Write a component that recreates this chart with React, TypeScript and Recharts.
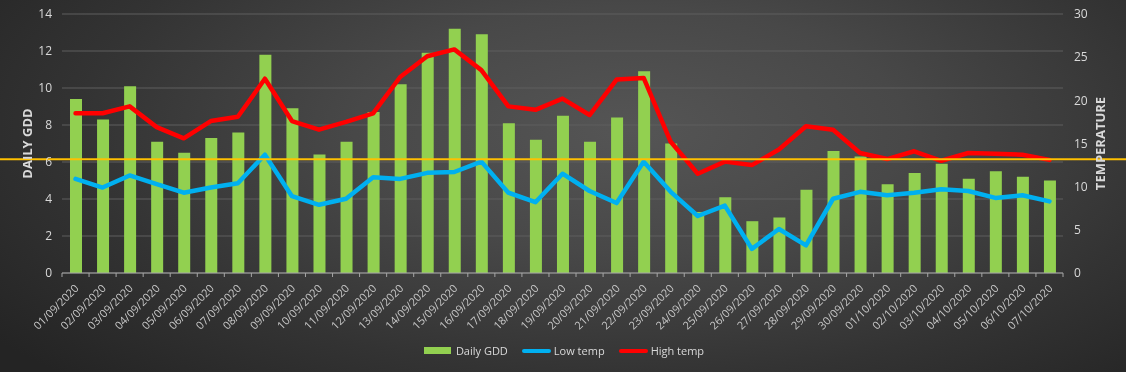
import { ComposedChart, Bar, Line, XAxis, YAxis, CartesianGrid, ReferenceLine, Legend } from 'recharts'

const dates = [
  '01/09/2020', '02/09/2020', '03/09/2020', '04/09/2020', '05/09/2020', '06/09/2020', '07/09/2020',
  '08/09/2020', '09/09/2020', '10/09/2020', '11/09/2020', '12/09/2020', '13/09/2020', '14/09/2020',
  '15/09/2020', '16/09/2020', '17/09/2020', '18/09/2020', '19/09/2020', '20/09/2020', '21/09/2020',
  '22/09/2020', '23/09/2020', '24/09/2020', '25/09/2020', '26/09/2020', '27/09/2020', '28/09/2020',
  '29/09/2020', '30/09/2020', '01/10/2020', '02/10/2020', '03/10/2020', '04/10/2020', '05/10/2020',
  '06/10/2020', '07/10/2020',
]
const dailyGdd = [
  9.4, 8.3, 10.1, 7.1, 6.5, 7.3, 7.6, 11.8, 8.9, 6.4, 7.1, 8.7, 10.2, 11.9, 13.2, 12.9, 8.1, 7.2, 8.5,
  7.1, 8.4, 10.9, 7.0, 3.3, 4.1, 2.8, 3.0, 4.5, 6.6, 6.3, 4.8, 5.4, 5.9, 5.1, 5.5, 5.2, 5.0,
]
const lowTemp = [
  10.9, 9.9, 11.3, 10.3, 9.3, 9.9, 10.4, 13.7, 8.9, 7.9, 8.6, 11.1, 10.9, 11.6, 11.7, 12.9, 9.3, 8.2,
  11.5, 9.5, 8.1, 12.9, 9.4, 6.6, 7.8, 2.8, 5.1, 3.2, 8.6, 9.4, 9.0, 9.3, 9.7, 9.5, 8.7, 9.0, 8.3,
]
const highTemp = [
  18.5, 18.5, 19.3, 16.9, 15.6, 17.6, 18.1, 22.5, 17.6, 16.6, 17.5, 18.5, 22.7, 25.1, 25.9, 23.5, 19.3,
  18.9, 20.2, 18.3, 22.4, 22.6, 15.2, 11.5, 12.9, 12.5, 14.3, 17.0, 16.6, 13.9, 13.2, 14.1, 13.0, 13.9,
  13.8, 13.7, 13.1,
]
const gddTicks = [0, 2, 4, 6, 8, 10, 12, 14]
const tempTicks = [0, 5, 10, 15, 20, 25, 30]
const gddThreshold = 6.15

const data = dates.map((date, i) => ({
  date,
  gdd: dailyGdd[i],
  low: lowTemp[i],
  high: highTemp[i],
}))

const W = 1126
const H = 372
const FONT = '"Open Sans", "Liberation Sans", sans-serif'
const TEXT = '#d9d9d9'

const DateTick = (props: any) => {
  const { x, y, payload, index } = props
  const half = 13.53
  const ax = x + 4
  const ay = y + 16
  return (
    <g>
      <line x1={x - half} x2={x - half} y1={y} y2={y + 4} stroke="#a6a6a6" />
      {index === dates.length - 1 && (
        <line x1={x + half} x2={x + half} y1={y} y2={y + 4} stroke="#a6a6a6" />
      )}
      <text
        x={ax}
        y={ay}
        transform={`rotate(-45, ${ax}, ${ay})`}
        textAnchor="end"
        fill="#c8c8c8"
        fontSize={11}
        fontFamily={FONT}
      >
        {payload.value}
      </text>
    </g>
  )
}

const legendItems = [
  { name: 'Daily GDD', color: '#92d050', kind: 'bar' },
  { name: 'Low temp', color: '#00b0f0', kind: 'line' },
  { name: 'High temp', color: '#ff0000', kind: 'line' },
]

const LegendContent = () => (
  <div style={{ display: 'flex', justifyContent: 'center', alignItems: 'center', fontFamily: FONT, fontSize: 11, color: TEXT }}>
    {legendItems.map((it) => (
      <div key={it.name} style={{ display: 'flex', alignItems: 'center', marginRight: 14 }}>
        <svg width={29} height={8} style={{ marginRight: 3 }}>
          {it.kind === 'bar' ? (
            <rect x={0} y={0} width={27} height={7} fill={it.color} />
          ) : (
            <line x1={2} x2={27} y1={4} y2={4} stroke={it.color} strokeWidth={4} strokeLinecap="round" />
          )}
        </svg>
        <span>{it.name}</span>
      </div>
    ))}
  </div>
)

export default function App() {
  return (
    <div
      style={{
        position: 'fixed',
        left: 0,
        top: 0,
        width: W,
        height: H,
        background:
          'radial-gradient(ellipse 70% 95% at 56% 35%, #555 0%, #484848 35%, #333 70%, #242424 100%)',
      }}
    >
      <ComposedChart width={W} height={H} data={data} margin={{ top: 14, right: 0, left: 0, bottom: 0 }}>
        <CartesianGrid yAxisId="left" vertical={false} stroke="#5e5e5e" strokeWidth={1} />
        <XAxis
          dataKey="date"
          interval={0}
          height={99}
          tick={<DateTick />}
          tickLine={false}
          tickSize={0}
          tickMargin={0}
          axisLine={{ stroke: '#a6a6a6' }}
        />
        <YAxis
          yAxisId="left"
          width={62}
          domain={[0, 14]}
          ticks={gddTicks}
          axisLine={false}
          tickLine={false}
          tickSize={0}
          tickMargin={10}
          tick={{ fill: TEXT, fontSize: 12, fontFamily: FONT }}
          label={({ viewBox }: any) => {
            const cx = 27
            const cy = viewBox.y + viewBox.height / 2
            return (
              <text x={cx} y={cy} transform={`rotate(-90, ${cx}, ${cy})`} textAnchor="middle" dominantBaseline="central" fill={TEXT} fontSize={13} fontWeight="bold" fontFamily={FONT}>
                DAILY GDD
              </text>
            )
          }}
        />
        <YAxis
          yAxisId="right"
          orientation="right"
          width={63}
          domain={[0, 30]}
          ticks={tempTicks}
          axisLine={false}
          tickLine={false}
          tickSize={0}
          tickMargin={11}
          tick={{ fill: TEXT, fontSize: 12, fontFamily: FONT, textAnchor: 'start' }}
          label={({ viewBox }: any) => {
            const cx = 1100
            const cy = viewBox.y + viewBox.height / 2
            return (
              <text x={cx} y={cy} transform={`rotate(-90, ${cx}, ${cy})`} textAnchor="middle" dominantBaseline="central" fill={TEXT} fontSize={13} fontWeight="bold" fontFamily={FONT}>
                TEMPERATURE
              </text>
            )
          }}
        />
        <Legend
          verticalAlign="middle"
          align="center"
          content={<LegendContent />}
          wrapperStyle={{ top: 343, left: 8, width: W }}
        />
        <Bar yAxisId="left" dataKey="gdd" name="Daily GDD" fill="#92d050" barSize={12} isAnimationActive={false} />
        <Line yAxisId="right" type="linear" dataKey="low" name="Low temp" stroke="#00b0f0" strokeWidth={4.5} strokeLinejoin="round" strokeLinecap="round" dot={false} activeDot={false} isAnimationActive={false} />
        <Line yAxisId="right" type="linear" dataKey="high" name="High temp" stroke="#ff0000" strokeWidth={4.5} strokeLinejoin="round" strokeLinecap="round" dot={false} activeDot={false} isAnimationActive={false} />
        <ReferenceLine
          yAxisId="left"
          y={gddThreshold}
          stroke="#ffc000"
          strokeWidth={2}
          shape={(p: any) => <line x1={0} x2={W} y1={p.y1} y2={p.y1} stroke="#ffc000" strokeWidth={2} />}
        />
      </ComposedChart>
    </div>
  )
}
